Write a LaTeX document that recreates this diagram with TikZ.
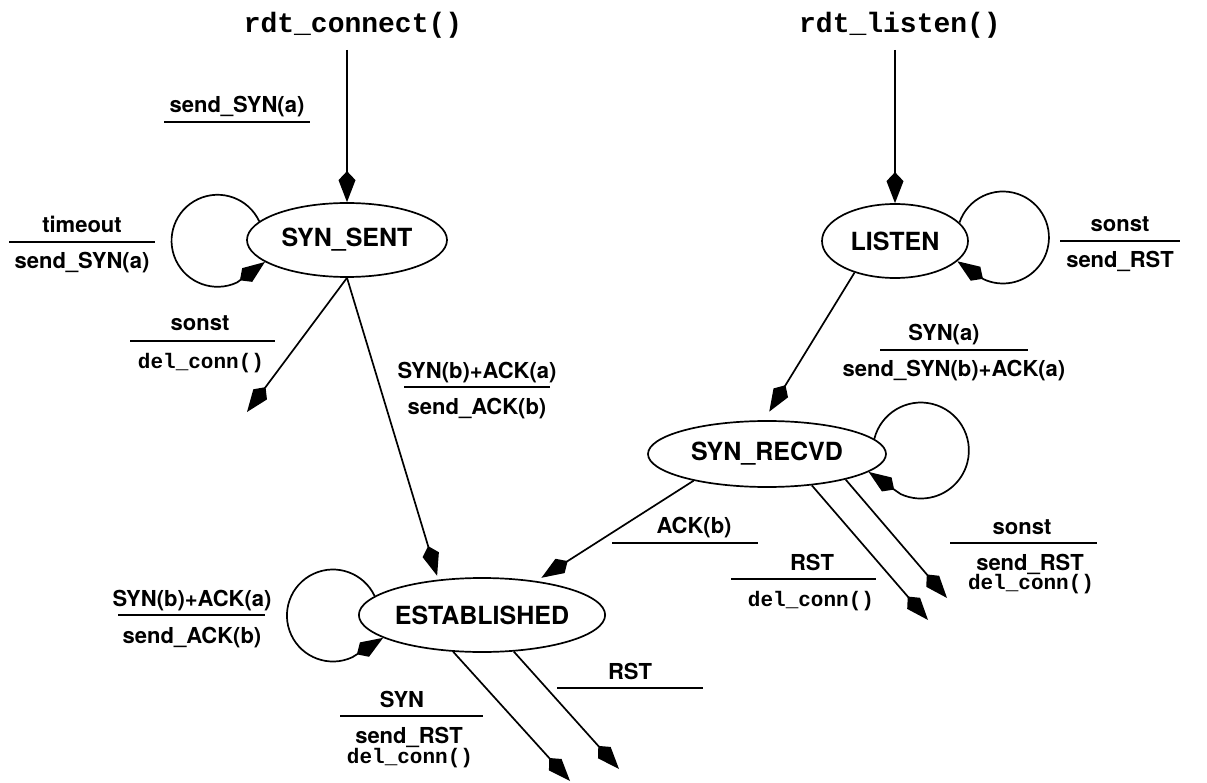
\documentclass[tikz,border=0pt]{standalone}
\usepackage{fontspec}
\newfontfamily\hv{TeX Gyre Heros}
\newfontfamily\mono{Liberation Mono}
\usetikzlibrary{arrows.meta,shapes.geometric}
\tikzset{
  st/.style={draw, ellipse, line width=1.7pt, inner sep=0pt, font=\hv\bfseries\fontsize{25}{30}\selectfont},
  arr/.style={line width=1.7pt, line join=round, -{Kite[length=31pt,width=17pt,inset=9pt]}},
  lbl/.style={font=\hv\bfseries\fontsize{22}{26}\selectfont, anchor=base, inner sep=0pt},
  mn/.style={font=\mono\bfseries\fontsize{21}{24}\selectfont, anchor=base, inner sep=0pt},
  big/.style={font=\mono\bfseries\fontsize{28}{32}\selectfont, anchor=base, inner sep=0pt},
  rule/.style={line width=1.7pt},
}
\begin{document}
\begin{tikzpicture}[x=1pt,y=1pt]
\useasboundingbox (0,0) rectangle (1207,-783);
\fill[white] (0,0) rectangle (1207,-783);

% states
\node[st, minimum width=200pt, minimum height=74pt] (SS) at (347,-240) {SYN\_SENT};
\node[st, minimum width=146pt, minimum height=74pt] (L) at (895,-241) {LISTEN};
\node[st, minimum width=238pt, minimum height=66pt] (SR) at (767,-454) {SYN\_RECVD};
\node[st, minimum width=236pt, minimum height=74pt] (ES) at (482,-615) {ESTABLISHED};

% calls
\node[big] (RC) at (353,-33) {rdt\_connect()};
\node[big] (RL) at (900,-33) {rdt\_listen()};
\coordinate (rcA) at (347,-50);
\coordinate (rlA) at (895,-50);
\draw[arr] (rcA) -- (SS.north);
\draw[arr] (rlA) -- (L.north);

% free ends
\coordinate (t1) at (247,-412);
\coordinate (t2) at (928,-620);
\coordinate (t3) at (947,-598);
\coordinate (t4) at (570,-781);
\coordinate (t5) at (619,-769);

% transitions
\draw[arr, shorten >=4pt] (SS.south) -- (ES.141);
\draw[arr] (SS.south) -- (t1);
\draw[arr, shorten >=10pt] (L.218) -- (SR.95);
\draw[arr, shorten >=6pt] (SR.200) -- (ES.32);
\draw[arr] (SR.-35) -- (t2);
\draw[arr] (SR.-18) -- (t3);
\draw[arr] (ES.-128) -- (t4);
\draw[arr] (ES.-49) -- (t5);

% loops
\draw[arr] (SS.168) arc[start angle=25, end angle=295, radius=46] -- (SS.195);
\draw[arr] (L.16) arc[start angle=161, end angle=-115, radius=46] -- (L.-18);
\draw[arr] (SR.8) arc[start angle=166, end angle=-115, radius=48] -- (SR.-10);
\draw[arr] (ES.170) arc[start angle=25, end angle=295, radius=46] -- (ES.193);

% labels
\node[lbl] (l1) at (237,-113) {send\_SYN(a)};
\draw[rule] (164,-122) -- (310,-122);

\node[lbl] (l2a) at (82,-233) {timeout};
\draw[rule] (9,-242) -- (155,-242);
\node[lbl] (l2b) at (82,-269) {send\_SYN(a)};

\node[lbl] (l3a) at (200,-331) {sonst};
\draw[rule] (130,-341) -- (275,-341);
\node[mn] (l3b) at (201,-368) {del\_conn()};

\node[lbl] (l4a) at (477,-378) {SYN(b)+ACK(a)};
\draw[rule] (404,-387) -- (550,-387);
\node[lbl] (l4b) at (477,-414) {send\_ACK(b)};

\node[lbl] (l5a) at (944,-341) {SYN(a)};
\draw[rule] (880,-350) -- (1028,-350);
\node[lbl] (l5b) at (954,-377) {send\_SYN(b)+ACK(a)};

\node[lbl] (l6) at (694,-533) {ACK(b)};
\draw[rule] (612,-543) -- (758,-543);

\node[lbl] (l7a) at (812,-570) {RST};
\draw[rule] (731,-579) -- (876,-579);
\node[mn] (l7b) at (811,-606) {del\_conn()};

\node[lbl] (l8a) at (1022,-534) {sonst};
\draw[rule] (950,-543) -- (1097,-543);
\node[lbl] (l8b) at (1030,-570) {send\_RST};
\node[mn] (l8c) at (1031,-589) {del\_conn()};

\node[lbl] (l9a) at (192,-606) {SYN(b)+ACK(a)};
\draw[rule] (118,-615) -- (265,-615);
\node[lbl] (l9b) at (192,-643) {send\_ACK(b)};

\node[lbl] (l10a) at (402,-707) {SYN};
\draw[rule] (340,-716) -- (483,-716);
\node[lbl] (l10b) at (409,-743) {send\_RST};
\node[mn] (l10c) at (410,-763) {del\_conn()};

\node[lbl] (l11) at (630,-679) {RST};
\draw[rule] (557,-688) -- (703,-688);

\node[lbl] (l12a) at (1120,-232) {sonst};
\draw[rule] (1060,-241) -- (1180,-241);
\node[lbl] (l12b) at (1120,-268) {send\_RST};
\end{tikzpicture}
\end{document}
